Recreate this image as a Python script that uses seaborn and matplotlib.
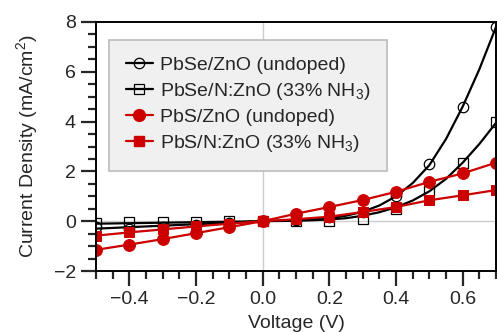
import numpy as np
import pandas as pd
import matplotlib
matplotlib.use("Agg")
import matplotlib.pyplot as plt
from matplotlib.lines import Line2D
from matplotlib.ticker import MultipleLocator
import seaborn as sns

# measured points
voltage = [-0.5, -0.4, -0.3, -0.2, -0.1, 0.0, 0.1, 0.2, 0.3, 0.4, 0.5, 0.6, 0.7]
pbse_zno = [-0.25, -0.3, -0.22, -0.15, -0.07, 0.0, 0.03, 0.16, 0.37, 1.0, 2.28, 4.6, 7.8]
pbse_nzno = [-0.06, -0.03, -0.03, -0.02, 0.0, 0.0, 0.02, 0.0, 0.1, 0.47, 1.2, 2.35, 4.0]
pbs_zno = [-1.15, -0.94, -0.72, -0.48, -0.24, 0.0, 0.3, 0.57, 0.85, 1.18, 1.58, 1.92, 2.35]
pbs_nzno = [-0.58, -0.45, -0.33, -0.21, -0.1, 0.0, 0.08, 0.18, 0.37, 0.57, 0.84, 1.04, 1.25]

# fitted diode curves
fit_v = [-0.5, -0.4, -0.3, -0.2, -0.1, 0.0, 0.05, 0.1, 0.15, 0.2, 0.25, 0.3, 0.35,
         0.4, 0.45, 0.5, 0.55, 0.6, 0.65, 0.7]
fit_pbse_zno = [-0.3, -0.24, -0.18, -0.12, -0.06, 0.0, 0.02, 0.04, 0.07, 0.12, 0.22, 0.38,
                0.63, 1.0, 1.53, 2.25, 3.3, 4.6, 6.1, 7.8]
fit_pbse_nzno = [-0.1, -0.08, -0.06, -0.04, -0.02, 0.0, 0.01, 0.02, 0.04, 0.07, 0.12, 0.22,
                 0.36, 0.56, 0.83, 1.2, 1.7, 2.35, 3.1, 3.95]

labels = ["PbSe/ZnO (undoped)", "PbSe/N:ZnO (33% NH$_3$)",
          "PbS/ZnO (undoped)", "PbS/N:ZnO (33% NH$_3$)"]

red = "#cc0000"

sns.set_style("ticks")
plt.rcParams["font.family"] = ["Liberation Sans", "DejaVu Sans"]
plt.rcParams["mathtext.fontset"] = "custom"
plt.rcParams["mathtext.rm"] = "Liberation Sans"
plt.rcParams["mathtext.default"] = "regular"

fig = plt.figure(figsize=(4.97, 3.32), dpi=100)
ax = fig.add_axes([96 / 497, 1 - 271 / 332, 400 / 497, 249 / 332])

ax.axhline(0, color="#cccccc", lw=1, zorder=0)
ax.axvline(0, color="#cccccc", lw=1, zorder=0)

# black fits + open markers
sns.lineplot(x=fit_v, y=fit_pbse_zno, ax=ax, color="black", lw=1.6, errorbar=None)
sns.lineplot(x=fit_v, y=fit_pbse_nzno, ax=ax, color="black", lw=1.6, errorbar=None)
ax.plot(voltage, pbse_zno, ls="none", marker="o", ms=7.5, mfc="none", mec="black", mew=0.9)
ax.plot(voltage, pbse_nzno, ls="none", marker="s", ms=7, mfc="none", mec="black", mew=0.9)

# red series, straight segments
sns.lineplot(x=voltage, y=pbs_zno, ax=ax, color=red, lw=1.6, marker="o", ms=8.5,
             mec=red, errorbar=None)
sns.lineplot(x=voltage, y=pbs_nzno, ax=ax, color=red, lw=1.6, marker="s", ms=7.5,
             mec=red, errorbar=None)

ax.set_xlim(-0.5, 0.7)
ax.set_ylim(-2, 8)
ax.xaxis.set_major_locator(MultipleLocator(0.2))
ax.xaxis.set_minor_locator(MultipleLocator(0.05))
ax.yaxis.set_major_locator(MultipleLocator(2))
ax.yaxis.set_minor_locator(MultipleLocator(0.5))
ax.set_xticks([-0.4, -0.2, 0.0, 0.2, 0.4, 0.6])
ax.tick_params(which="major", length=11, width=1.6, labelsize=14, direction="out")
ax.tick_params(which="minor", length=5.5, width=1.6, direction="out")
for s in ax.spines.values():
    s.set_linewidth(1.4)
    s.set_color("black")

ax.set_xlabel("Voltage (V)", fontsize=14, labelpad=5)
ax.set_ylabel("Current Density (mA/cm$^2$)", fontsize=14, labelpad=10)

handles = [
    Line2D([], [], color="black", lw=1.6, marker="o", ms=7.5, mfc="none", mec="black", mew=0.9),
    Line2D([], [], color="black", lw=1.6, marker="s", ms=7, mfc="none", mec="black", mew=0.9),
    Line2D([], [], color=red, lw=1.6, marker="o", ms=8.5, mec=red),
    Line2D([], [], color=red, lw=1.6, marker="s", ms=7.5, mec=red),
]
leg = ax.legend(handles, labels, loc="upper left", bbox_to_anchor=(0.0325, 0.928),
                fontsize=14, handlelength=1.4, handletextpad=0.35, labelspacing=0.35,
                borderpad=0.85, borderaxespad=0, fancybox=False, framealpha=1)
leg.get_frame().set_facecolor("#f0f0f0")
leg.get_frame().set_edgecolor("#bbbbbb")
leg.get_frame().set_linewidth(1.2)

fig.savefig("out.png", dpi=100)
